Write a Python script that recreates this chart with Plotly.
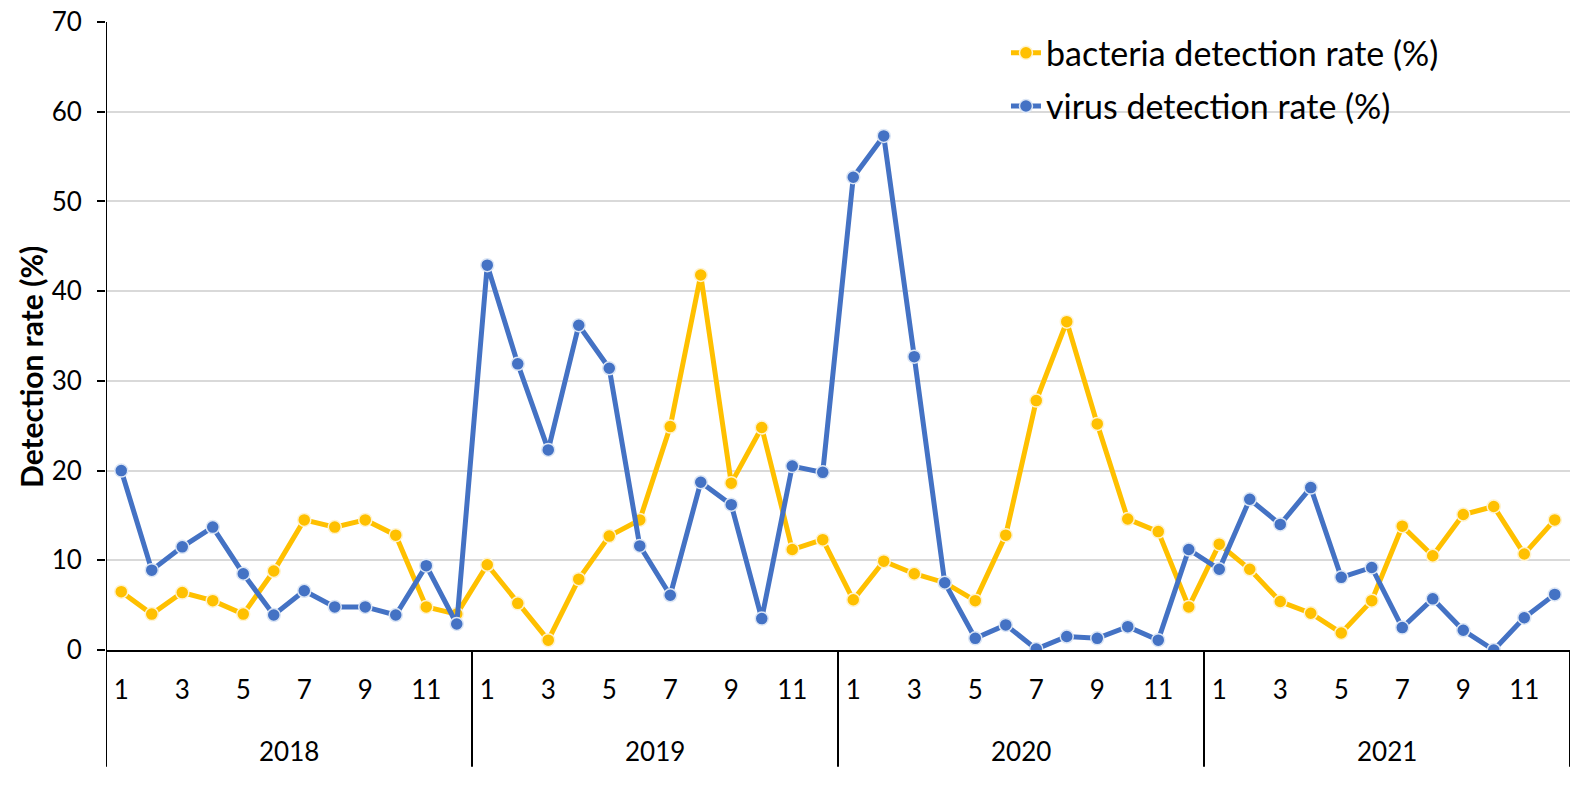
import plotly.graph_objects as go

years = ["2018", "2019", "2020", "2021"]
months = list(range(1, 13))
month_tick_labels = ["1", "3", "5", "7", "9", "11"]

bacteria_2018 = [6.5, 4.0, 6.4, 5.5, 4.0, 8.8, 14.5, 13.7, 14.5, 12.8, 4.8, 4.0]
bacteria_2019 = [9.5, 5.2, 1.1, 7.9, 12.7, 14.5, 24.9, 41.8, 18.6, 24.8, 11.2, 12.3]
bacteria_2020 = [5.6, 9.9, 8.5, 7.5, 5.5, 12.8, 27.8, 36.6, 25.2, 14.6, 13.2, 4.8]
bacteria_2021 = [11.8, 9.0, 5.4, 4.1, 1.9, 5.5, 13.8, 10.5, 15.1, 16.0, 10.7, 14.5]

virus_2018 = [20.0, 8.9, 11.5, 13.7, 8.5, 3.9, 6.6, 4.8, 4.8, 3.9, 9.4, 2.9]
virus_2019 = [42.9, 31.9, 22.3, 36.2, 31.4, 11.6, 6.1, 18.7, 16.2, 3.5, 20.5, 19.8]
virus_2020 = [52.7, 57.3, 32.7, 7.5, 1.3, 2.8, 0.1, 1.5, 1.3, 2.6, 1.1, 11.2]
virus_2021 = [9.0, 16.8, 14.0, 18.1, 8.1, 9.2, 2.5, 5.7, 2.2, 0.0, 3.6, 6.2]

bacteria = bacteria_2018 + bacteria_2019 + bacteria_2020 + bacteria_2021
virus = virus_2018 + virus_2019 + virus_2020 + virus_2021

# positional index along the axis (one slot per month)
x_idx = [yi * 12 + m for yi in range(len(years)) for m in months]
tick_vals = [yi * 12 + int(t) for yi in range(len(years)) for t in month_tick_labels]
tick_text = [t for _ in years for t in month_tick_labels]

FONT = "Lato, 'Noto Sans', sans-serif"
GOLD = "#FFC000"
BLUE = "#4472C4"

fig = go.Figure()
fig.add_trace(go.Scatter(
    x=x_idx, y=bacteria, mode="lines+markers", name="bacteria detection rate (%)",
    line=dict(color=GOLD, width=5),
    marker=dict(size=13, color=GOLD, line=dict(color="#FFF3D0", width=1.5)),
    legendgroup="b",
))
fig.add_trace(go.Scatter(
    x=x_idx, y=virus, mode="lines+markers", name="virus detection rate (%)",
    line=dict(color=BLUE, width=5),
    marker=dict(size=13, color=BLUE, line=dict(color="#DCE6F5", width=1.5)),
    legendgroup="v",
))

W, H = 1586, 785
OFF, SC = 8, 0.987  # observed page offset and scale


def fx(p):
    return (p - OFF) / SC


L = round(fx(105))
T = round(fx(22))
R = W - round(fx(1550))
B = H - round(fx(642))
plot_h = H - T - B
plot_w = W - L - R


def py(p):  # page y -> paper y
    return 1 - (fx(p) - T) / plot_h


def px(p):  # page x -> paper x
    return (fx(p) - L) / plot_w


shapes = []
# left axis extension + year dividers
for k in range(len(years) + 1):
    xv = 0.5 + 12 * k
    y1 = 1 if k == 0 else 0
    shapes.append(dict(type="line", xref="x", yref="paper", x0=xv, x1=xv,
                       y0=py(757), y1=y1, line=dict(color="black", width=2)))

annotations = []
for yi, yr in enumerate(years):
    annotations.append(dict(x=yi * 12 + 6.5, y=py(741), xref="x", yref="paper",
                            text=yr, showarrow=False, yanchor="middle",
                            font=dict(family=FONT, size=26, color="#000000")))
annotations.append(dict(x=px(30), y=py(362), xref="paper", yref="paper",
                        text="<b>Detection rate (%)</b>", textangle=-90, showarrow=False,
                        xanchor="center", yanchor="middle",
                        font=dict(family=FONT, size=30, color="#000000")))

fig.update_layout(
    width=W, height=H,
    margin=dict(l=L, r=R, t=T, b=B),
    paper_bgcolor="white", plot_bgcolor="white",
    font=dict(family=FONT, size=26, color="#000000"),
    showlegend=True,
    legend=dict(x=px(993), y=py(24), xanchor="left", yanchor="top",
                bgcolor="rgba(0,0,0,0)", font=dict(size=34), tracegroupgap=6,
                itemwidth=30),
    shapes=shapes,
    annotations=annotations,
)
fig.update_xaxes(
    range=[0.5, 48.5], tickmode="array", tickvals=tick_vals, ticktext=tick_text,
    showgrid=False, zeroline=False, showline=True, linecolor="black", linewidth=2,
    ticks="", ticklabelstandoff=16, tickfont=dict(size=26), automargin=False,
    ticklabeloverflow="allow",
)
fig.update_yaxes(
    range=[0, 70], dtick=10, showgrid=True, gridcolor="#D9D9D9", gridwidth=1.5,
    zeroline=False, showline=False, ticks="outside", ticklen=8, tickwidth=2,
    tickcolor="black", tickfont=dict(size=26), ticklabelstandoff=10, automargin=False,
    ticklabeloverflow="allow",
)

fig.write_html("out.html")
